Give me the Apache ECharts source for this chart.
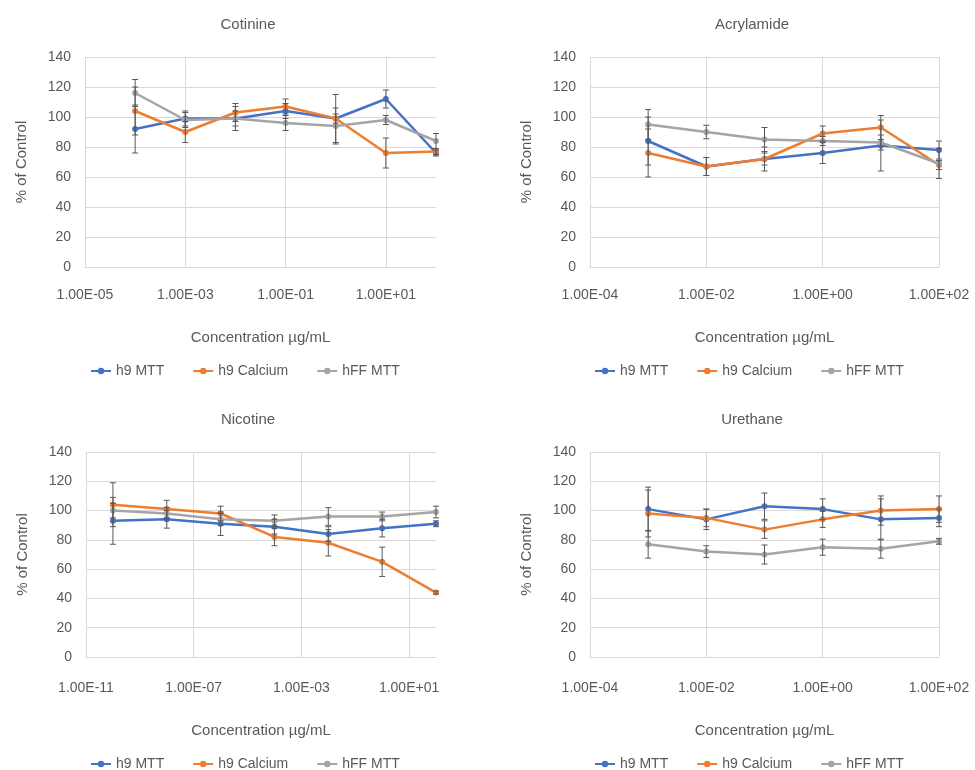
<!DOCTYPE html>
<html>
<head>
<meta charset="utf-8">
<script src="https://cdn.jsdelivr.net/npm/echarts@6/dist/echarts.min.js"></script>
<style>
html, body { margin: 0; padding: 0; background: #fff; }
#main { width: 975px; height: 770px; }
</style>
</head>
<body>
<div id="main"></div>
<script>
// 系列名
var seriesNames = ['h9 MTT', 'h9 Calcium', 'hFF MTT'];
var colors = ['#4472C4', '#ED7D31', '#A5A5A5'];
var yTicks = [0, 20, 40, 60, 80, 100, 120, 140];

// Cotinine
var cotinineConc = [1e-4, 1e-3, 1e-2, 1e-1, 1, 10, 100];
var cotinineMTT = [92, 99, 99, 104, 99, 112, 76];
var cotinineCalcium = [104, 90, 103, 107, 99, 76, 77];
var cotinineHff = [116, 98, 99, 96, 94, 98, 84];
var cotinineMTTErr = [16, 5, 5, 5, 16, 6, 2];
var cotinineCalciumErr = [16, 7, 6, 5, 3, 10, 2];
var cotinineHffErr = [9, 5, 8, 5, 12, 3, 5];
var cotinineTicks = [-5, -3, -1, 1];

// Acrylamide
var acrylamideConc = [1e-3, 1e-2, 1e-1, 1, 10, 100];
var acrylamideMTT = [84, 67, 72, 76, 81, 78];
var acrylamideCalcium = [76, 67, 72, 89, 93, 68];
var acrylamideHff = [95, 90, 85, 84, 83, 69];
var acrylamideMTTErr = [16, 6, 8, 7, 17, 6];
var acrylamideCalciumErr = [16, 6, 4, 5, 8, 3];
var acrylamideHffErr = [10, 4.5, 8, 3, 5, 10];
var acrylamideTicks = [-4, -2, 0, 2];

// Nicotine
var nicotineConc = [1e-10, 1e-8, 1e-6, 1e-4, 1e-2, 1, 100];
var nicotineMTT = [93, 94, 91, 89, 84, 88, 91];
var nicotineCalcium = [104, 101, 98, 82, 78, 65, 44];
var nicotineHff = [100, 98, 94, 93, 96, 96, 99];
var nicotineMTTErr = [16, 6, 8, 5, 5, 6, 2];
var nicotineCalciumErr = [15, 6, 5, 6, 9, 10, 1];
var nicotineHffErr = [5, 4, 4, 4, 6, 3, 4];
var nicotineTicks = [-11, -7, -3, 1];

// Urethane
var urethaneConc = [1e-3, 1e-2, 1e-1, 1, 10, 100];
var urethaneMTT = [101, 94, 103, 101, 94, 95];
var urethaneCalcium = [98, 95, 87, 94, 100, 101];
var urethaneHff = [77, 72, 70, 75, 74, 79];
var urethaneMTTErr = [15, 7, 9, 7, 14, 6];
var urethaneCalciumErr = [16, 6, 6, 5.5, 10, 9];
var urethaneHffErr = [9.5, 4, 6.5, 5.5, 6.5, 2];
var urethaneTicks = [-4, -2, 0, 2];

var font = 'Liberation Sans';
var textColor = '#595959';
var gridColor = '#d9d9d9';

var panels = [
    { title: 'Cotinine', conc: cotinineConc, vals: [cotinineMTT, cotinineCalcium, cotinineHff], errs: [cotinineMTTErr, cotinineCalciumErr, cotinineHffErr], ticks: cotinineTicks, min: -5, max: 2,
      grid: { left: 85, top: 57, width: 351, height: 210 }, titleTop: 12, nameTop: 63, legendTop: 359, labelMargin: 21, cx: 243 },
    { title: 'Acrylamide', conc: acrylamideConc, vals: [acrylamideMTT, acrylamideCalcium, acrylamideHff], errs: [acrylamideMTTErr, acrylamideCalciumErr, acrylamideHffErr], ticks: acrylamideTicks, min: -4, max: 2,
      grid: { left: 590, top: 57, width: 349, height: 210 }, titleTop: 12, nameTop: 63, legendTop: 359, labelMargin: 21, cx: 747 },
    { title: 'Nicotine', conc: nicotineConc, vals: [nicotineMTT, nicotineCalcium, nicotineHff], errs: [nicotineMTTErr, nicotineCalciumErr, nicotineHffErr], ticks: nicotineTicks, min: -11, max: 2,
      grid: { left: 86, top: 452, width: 350, height: 205 }, titleTop: 407, nameTop: 66, legendTop: 752, labelMargin: 24, cx: 243 },
    { title: 'Urethane', conc: urethaneConc, vals: [urethaneMTT, urethaneCalcium, urethaneHff], errs: [urethaneMTTErr, urethaneCalciumErr, urethaneHffErr], ticks: urethaneTicks, min: -4, max: 2,
      grid: { left: 590, top: 452, width: 349, height: 205 }, titleTop: 407, nameTop: 66, legendTop: 752, labelMargin: 24, cx: 747 }
];

function expLabel(v) {
    var e = Math.round(v);
    var s = Math.abs(e) < 10 ? '0' + Math.abs(e) : '' + Math.abs(e);
    return '1.00E' + (e < 0 ? '-' : '+') + s;
}

// 误差线
function renderErr(params, api) {
    var x = api.value(0);
    var y = api.value(1);
    var e = api.value(2);
    var hi = api.coord([x, y + e]);
    var lo = api.coord([x, y - e]);
    var w = 3;
    var st = { stroke: '#595959', lineWidth: 1 };
    return {
        type: 'group',
        children: [
            { type: 'line', shape: { x1: hi[0], y1: hi[1], x2: lo[0], y2: lo[1] }, style: st },
            { type: 'line', shape: { x1: hi[0] - w, y1: hi[1], x2: hi[0] + w, y2: hi[1] }, style: st },
            { type: 'line', shape: { x1: lo[0] - w, y1: lo[1], x2: lo[0] + w, y2: lo[1] }, style: st }
        ]
    };
}

var titles = [], grids = [], xAxes = [], yAxes = [], legends = [], series = [];

panels.forEach(function (p, i) {
    titles.push({
        text: p.title, left: p.cx, top: p.titleTop, textAlign: 'center',
        textStyle: { fontFamily: font, fontSize: 15, fontWeight: 'normal', color: textColor }
    });
    grids.push(p.grid);
    xAxes.push({
        type: 'value', gridIndex: i, min: p.min, max: p.max,
        name: 'Concentration µg/mL', nameLocation: 'middle', nameGap: p.nameTop,
        nameTextStyle: { fontFamily: font, fontSize: 15, color: textColor },
        axisLine: { show: true, lineStyle: { color: gridColor } },
        axisTick: { show: false, customValues: p.ticks },
        axisLabel: { customValues: p.ticks, formatter: expLabel, fontFamily: font, fontSize: 14, color: textColor, margin: p.labelMargin, hideOverlap: false },
        splitLine: { show: true, lineStyle: { color: gridColor } }
    });
    yAxes.push({
        type: 'value', gridIndex: i, min: 0, max: 140, interval: 20,
        name: '% of Control', nameLocation: 'middle', nameGap: 56,
        nameTextStyle: { fontFamily: font, fontSize: 15, color: textColor },
        axisLine: { show: false }, axisTick: { show: false },
        axisLabel: { fontFamily: font, fontSize: 14, color: textColor, margin: 14 },
        splitLine: { lineStyle: { color: gridColor } }
    });
    legends.push({
        data: seriesNames, left: p.cx - 158, top: p.legendTop, orient: 'horizontal',
        itemWidth: 20, itemHeight: 8, itemGap: 28,
        textStyle: { fontFamily: font, fontSize: 14, color: textColor },
        selectedMode: false
    });
    // 每个面板 3 条线
    for (var k = 0; k < 3; k++) {
        var pts = [], errPts = [];
        for (var j = 0; j < p.conc.length; j++) {
            var lx = Math.log10(p.conc[j]);
            pts.push([lx, p.vals[k][j]]);
            errPts.push([lx, p.vals[k][j], p.errs[k][j]]);
        }
        series.push({
            name: seriesNames[k], type: 'line', xAxisIndex: i, yAxisIndex: i,
            data: pts, symbol: 'circle', symbolSize: 6,
            itemStyle: { color: colors[k] },
            lineStyle: { color: colors[k], width: 2.5 },
            z: 2 + k, animation: false
        });
        series.push({
            name: 'err' + i + k, type: 'custom', xAxisIndex: i, yAxisIndex: i,
            data: errPts, renderItem: renderErr, z: 10, silent: true, animation: false
        });
    }
});

var myChart = echarts.init(document.getElementById('main'));
var option = {
    backgroundColor: '#fff',
    animation: false,
    title: titles,
    grid: grids,
    xAxis: xAxes,
    yAxis: yAxes,
    legend: legends,
    series: series
};
myChart.setOption(option);
</script>
</body>
</html>
